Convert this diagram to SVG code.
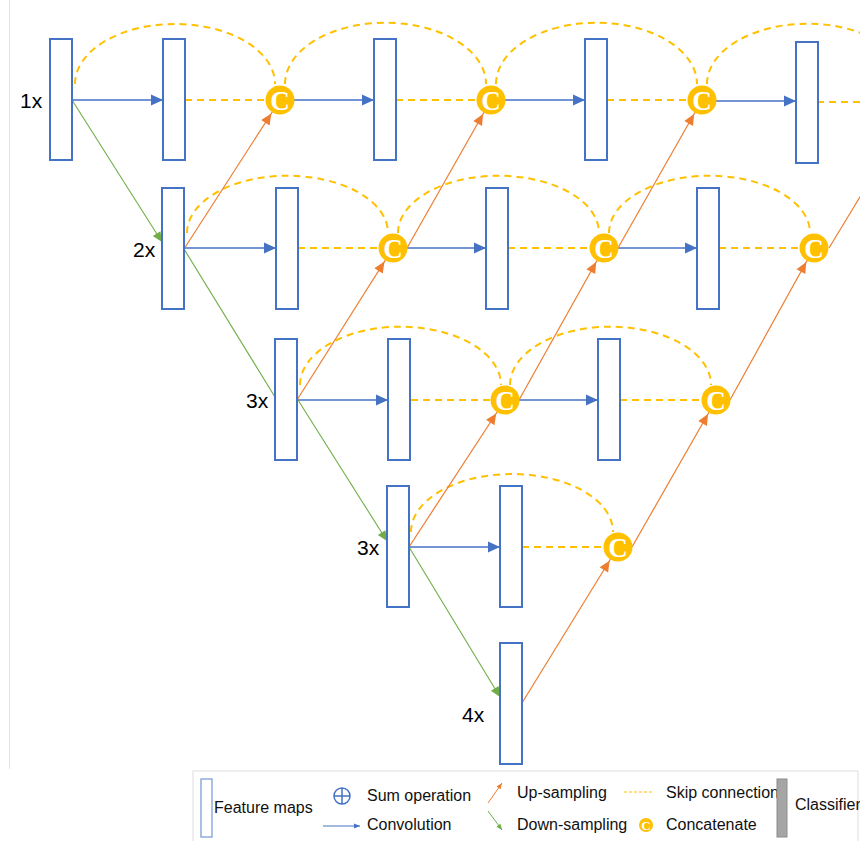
<svg xmlns="http://www.w3.org/2000/svg" width="860" height="841" viewBox="0 0 860 841">
  <style>
    .fm { fill: #ffffff; stroke: #4472C4; stroke-width: 2; }
    .conv { stroke: #4472C4; stroke-width: 1.3; fill: none; marker-end: url(#convHead); }
    .skip { stroke: #FFC000; stroke-width: 2; stroke-dasharray: 7 5; fill: none; }
    .up { stroke: #ED7D31; stroke-width: 1.2; fill: none; marker-end: url(#upHead); }
    .down { stroke: #70AD47; stroke-width: 1.1; fill: none; }
    .downA { marker-end: url(#downHead); }
    .cat circle { fill: #FFC000; }
    .cat text { fill: #ffffff; font-family: "Liberation Serif", "DejaVu Serif", serif; font-size: 27px; font-weight: bold; text-anchor: middle; }
    .lvl { font-family: "Liberation Sans", Arial, sans-serif; font-size: 21px; fill: #000000; }
    .lg { font-family: "Liberation Sans", Arial, sans-serif; font-size: 16px; fill: #111111; }
  </style>
  <defs>
    <marker id="convHead" markerUnits="userSpaceOnUse" markerWidth="12" markerHeight="11" refX="12" refY="5.5" orient="auto" overflow="visible">
      <path d="M0,0 L12,5.5 L0,11 z" fill="#4472C4"/>
    </marker>
    <marker id="upHead" markerUnits="userSpaceOnUse" markerWidth="11" markerHeight="10" refX="27" refY="5" orient="auto" overflow="visible">
      <path d="M0,0 L11,5 L0,10 z" fill="#ED7D31"/>
    </marker>
    <marker id="downHead" markerUnits="userSpaceOnUse" markerWidth="10" markerHeight="9" refX="10" refY="4.5" orient="auto" overflow="visible">
      <path d="M0,0 L10,4.5 L0,9 z" fill="#70AD47"/>
    </marker>
    <marker id="smallBlue" markerUnits="userSpaceOnUse" markerWidth="6" markerHeight="5" refX="6" refY="2.5" orient="auto" overflow="visible">
      <path d="M0,0 L6,2.5 L0,5 z" fill="#4472C4"/>
    </marker>
    <marker id="smallOrange" markerUnits="userSpaceOnUse" markerWidth="6" markerHeight="5" refX="6" refY="2.5" orient="auto" overflow="visible">
      <path d="M0,0 L6,2.5 L0,5 z" fill="#ED7D31"/>
    </marker>
    <marker id="smallGreen" markerUnits="userSpaceOnUse" markerWidth="6" markerHeight="5" refX="6" refY="2.5" orient="auto" overflow="visible">
      <path d="M0,0 L6,2.5 L0,5 z" fill="#70AD47"/>
    </marker>
  </defs>

  <rect x="0" y="0" width="860" height="841" fill="#ffffff"/>
  <!-- frame lines -->
  <line x1="9.5" y1="0" x2="9.5" y2="769" stroke="#e3e3e3" stroke-width="1"/>

  <!-- connectors -->
  <g id="connectors">
    <!-- skip arcs -->
    <path class="skip" d="M75,84 A100,60 0 0 1 275,84"/>
    <path class="skip" d="M285,84 A100,61 0 0 1 486,84"/>
    <path class="skip" d="M496,84 A100,61 0 0 1 697,84"/>
    <path class="skip" d="M707,84 A100,60 0 0 1 908,84"/>
    <path class="skip" d="M187,233 A100,57 0 0 1 388,233"/>
    <path class="skip" d="M398,233 A100,57 0 0 1 599,233"/>
    <path class="skip" d="M609,233 A100,57 0 0 1 810,233"/>
    <path class="skip" d="M300,385 A100,58 0 0 1 501,385"/>
    <path class="skip" d="M510,385 A100,58 0 0 1 711,385"/>
    <path class="skip" d="M411,532 A101,58 0 0 1 613,532"/>

    <!-- skip straight -->
    <path class="skip" d="M185,100 H266 M396,100 H477 M607,100 H688 M817,102 H860"/>
    <path class="skip" d="M298,248 H379 M508,248 H590 M719,248 H800"/>
    <path class="skip" d="M411,400 H491 M620,400 H702"/>
    <path class="skip" d="M522,547 H604"/>

    <!-- convolutions -->
    <line class="conv" x1="72" y1="100" x2="163" y2="100"/>
    <line class="conv" x1="294" y1="100" x2="374" y2="100"/>
    <line class="conv" x1="505" y1="100" x2="585" y2="100"/>
    <line class="conv" x1="716" y1="101" x2="796" y2="101"/>
    <line class="conv" x1="184" y1="248" x2="276" y2="248"/>
    <line class="conv" x1="407" y1="248" x2="486" y2="248"/>
    <line class="conv" x1="618" y1="248" x2="697" y2="248"/>
    <line class="conv" x1="297" y1="400" x2="388" y2="400"/>
    <line class="conv" x1="519" y1="400" x2="598" y2="400"/>
    <line class="conv" x1="409" y1="547" x2="500" y2="547"/>

    <!-- down-sampling -->
    <line class="down downA" x1="72" y1="100" x2="162" y2="242"/>
    <line class="down" x1="184" y1="249" x2="275" y2="397"/>
    <line class="down downA" x1="298" y1="400" x2="387" y2="541"/>
    <line class="down downA" x1="409" y1="547" x2="500" y2="697"/>

    <!-- up-sampling -->
    <line class="up" x1="184" y1="249" x2="280" y2="100"/>
    <line class="up" x1="407" y1="248" x2="491" y2="100"/>
    <line class="up" x1="618" y1="248" x2="702" y2="100"/>
    <line x1="829" y1="248" x2="880" y2="164" stroke="#ED7D31" stroke-width="1.2"/>
    <line class="up" x1="297" y1="400" x2="393" y2="248"/>
    <line class="up" x1="519" y1="400" x2="604" y2="248"/>
    <line class="up" x1="730" y1="400" x2="814" y2="248"/>
    <line class="up" x1="409" y1="547" x2="505" y2="400"/>
    <line class="up" x1="632" y1="547" x2="716" y2="400"/>
    <line class="up" x1="522" y1="703" x2="618" y2="547"/>
  </g>

  <!-- feature maps -->
  <g id="fm-1-1"><rect class="fm" x="50" y="39" width="22" height="121"/></g>
  <g id="fm-1-2"><rect class="fm" x="163" y="39" width="22" height="121"/></g>
  <g id="fm-1-3"><rect class="fm" x="374" y="39" width="22" height="121"/></g>
  <g id="fm-1-4"><rect class="fm" x="585" y="39" width="22" height="121"/></g>
  <g id="fm-1-5"><rect class="fm" x="796" y="42" width="22" height="121"/></g>

  <g id="fm-2-1"><rect class="fm" x="162" y="188" width="22" height="121"/></g>
  <g id="fm-2-2"><rect class="fm" x="276" y="188" width="22" height="121"/></g>
  <g id="fm-2-3"><rect class="fm" x="486" y="188" width="22" height="121"/></g>
  <g id="fm-2-4"><rect class="fm" x="697" y="188" width="22" height="121"/></g>

  <g id="fm-3-1"><rect class="fm" x="275" y="339" width="22" height="121"/></g>
  <g id="fm-3-2"><rect class="fm" x="388" y="339" width="22" height="121"/></g>
  <g id="fm-3-3"><rect class="fm" x="598" y="339" width="22" height="121"/></g>

  <g id="fm-4-1"><rect class="fm" x="387" y="486" width="22" height="121"/></g>
  <g id="fm-4-2"><rect class="fm" x="500" y="486" width="22" height="121"/></g>

  <g id="fm-5-1"><rect class="fm" x="500" y="643" width="22" height="121"/></g>

  <!-- concatenations -->
  <g id="cat-1-1" class="cat"><circle cx="280" cy="100" r="14.5"/><text x="280" y="109.5">C</text></g>
  <g id="cat-1-2" class="cat"><circle cx="491" cy="100" r="14.5"/><text x="491" y="109.5">C</text></g>
  <g id="cat-1-3" class="cat"><circle cx="702" cy="100" r="14.5"/><text x="702" y="109.5">C</text></g>
  <g id="cat-2-1" class="cat"><circle cx="393" cy="248" r="14.5"/><text x="393" y="257.5">C</text></g>
  <g id="cat-2-2" class="cat"><circle cx="604" cy="248" r="14.5"/><text x="604" y="257.5">C</text></g>
  <g id="cat-2-3" class="cat"><circle cx="814" cy="248" r="14.5"/><text x="814" y="257.5">C</text></g>
  <g id="cat-3-1" class="cat"><circle cx="505" cy="400" r="14.5"/><text x="505" y="409.5">C</text></g>
  <g id="cat-3-2" class="cat"><circle cx="716" cy="400" r="14.5"/><text x="716" y="409.5">C</text></g>
  <g id="cat-4-1" class="cat"><circle cx="618" cy="547" r="14.5"/><text x="618" y="556.5">C</text></g>

  <!-- level labels -->
  <g id="levels">
    <text class="lvl" x="20" y="108">1x</text>
    <text class="lvl" x="133" y="257">2x</text>
    <text class="lvl" x="246" y="408">3x</text>
    <text class="lvl" x="357" y="555">3x</text>
    <text class="lvl" x="462" y="722">4x</text>
  </g>

  <!-- legend -->
  <g id="legend">
    <rect x="193" y="771" width="665" height="80" fill="#ffffff" stroke="#dddddd" stroke-width="1"/>
    <rect x="201" y="779" width="11" height="58" fill="#ffffff" stroke="#7F9ED8" stroke-width="1.3"/>
    <text class="lg" x="214" y="813">Feature maps</text>

    <circle cx="342" cy="796" r="8" fill="none" stroke="#4472C4" stroke-width="1.5"/>
    <path d="M334,796 H350 M342,788 V804" stroke="#4472C4" stroke-width="1.5"/>
    <text class="lg" x="367" y="801">Sum operation</text>
    <line x1="323" y1="826" x2="360" y2="826" stroke="#4472C4" stroke-width="1" marker-end="url(#smallBlue)"/>
    <text class="lg" x="367" y="830">Convolution</text>

    <line x1="488" y1="803" x2="502" y2="783" stroke="#ED7D31" stroke-width="1" marker-end="url(#smallOrange)"/>
    <text class="lg" x="517" y="798">Up-sampling</text>
    <line x1="488" y1="811" x2="502" y2="830" stroke="#70AD47" stroke-width="1" marker-end="url(#smallGreen)"/>
    <text class="lg" x="517" y="830">Down-sampling</text>

    <line x1="624" y1="792" x2="654" y2="792" stroke="#FFC000" stroke-width="1" stroke-dasharray="3 2"/>
    <text class="lg" x="666" y="798">Skip connection</text>
    <circle cx="646" cy="825" r="7" fill="#FFC000"/>
    <text x="646" y="830" fill="#ffffff" font-family="Liberation Serif, serif" font-size="13" font-weight="bold" text-anchor="middle">C</text>
    <text class="lg" x="666" y="830">Concatenate</text>

    <rect x="777" y="779" width="10" height="58" fill="#A5A5A5" stroke="#8c8c8c" stroke-width="1"/>
    <text class="lg" x="795" y="810">Classifier</text>
  </g>
</svg>
